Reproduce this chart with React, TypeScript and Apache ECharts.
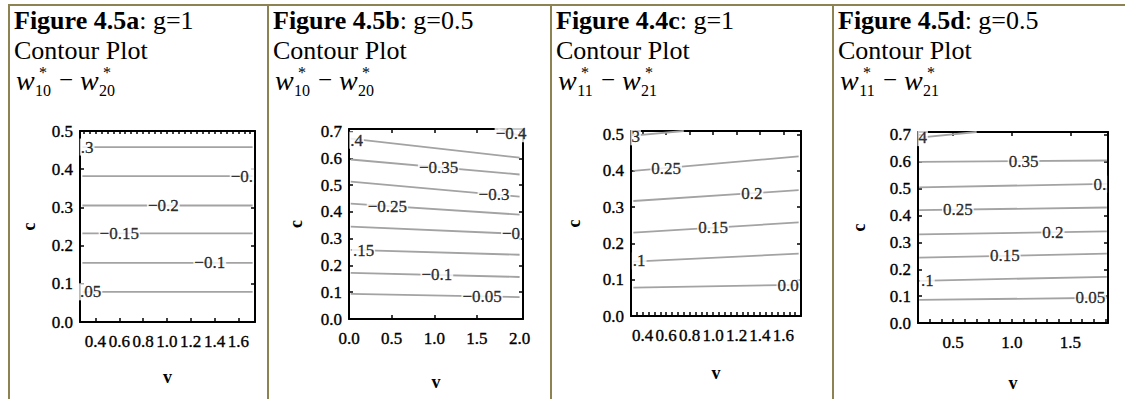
import React, { useEffect, useRef } from 'react';
import * as echarts from 'echarts';

const FONT = "'Liberation Serif', 'Times New Roman', serif";
const LINE_COLOR = '#a3a3a3';
const BORDER = '#8c8252';

// ---------- text ----------
const titleBold = ['Figure 4.5a', 'Figure 4.5b', 'Figure 4.4c', 'Figure 4.5d'];
const titleRest = [': g=1', ': g=0.5', ': g=1', ': g=0.5'];
const subtitleText = 'Contour Plot';
const subFirst = ['10', '10', '11', '11'];
const subSecond = ['20', '20', '21', '21'];

// ---------- axes ----------
const xRange = [[0.27, 1.74], [0, 2.04], [0.3, 1.75], [0.2, 1.82]];
const yRange = [[0, 0.5], [0, 0.71], [0, 0.51], [0, 0.711]];

const xLabelsA = [0.4, 0.6, 0.8, 1.0, 1.2, 1.4, 1.6];
const xLabelsB = [0.0, 0.5, 1.0, 1.5, 2.0];
const xLabelsC = [0.4, 0.6, 0.8, 1.0, 1.2, 1.4, 1.6];
const xLabelsD = [0.5, 1.0, 1.5];

const yLabels05 = [0.0, 0.1, 0.2, 0.3, 0.4, 0.5];
const yLabels07 = [0.0, 0.1, 0.2, 0.3, 0.4, 0.5, 0.6, 0.7];

const fineTicksA = [0.3, 0.35, 0.4, 0.45, 0.5, 0.55, 0.6, 0.65, 0.7, 0.75, 0.8, 0.85, 0.9, 0.95, 1.0, 1.05, 1.1, 1.15, 1.2, 1.25, 1.3, 1.35, 1.4, 1.45, 1.5, 1.55, 1.6, 1.65, 1.7];
const fineTicksC = [0.35, 0.4, 0.45, 0.5, 0.55, 0.6, 0.65, 0.7, 0.75, 0.8, 0.85, 0.9, 0.95, 1.0, 1.05, 1.1, 1.15, 1.2, 1.25, 1.3, 1.35, 1.4, 1.45, 1.5, 1.55, 1.6, 1.65, 1.7];
const fineTicksD = [0.3, 0.4, 0.5, 0.6, 0.7, 0.8, 0.9, 1.0, 1.1, 1.2, 1.3, 1.4, 1.5, 1.6, 1.7, 1.8];

const bottomTicks = [xLabelsA, [0.5, 1.0, 1.5], fineTicksC, fineTicksD];
const topTicks = [fineTicksA, [0.5, 1.0, 1.5], xLabelsC, xLabelsD];
const xLabels = [xLabelsA, xLabelsB, xLabelsC, xLabelsD];
const yLabels = [yLabels05, yLabels07, yLabels05, yLabels07];

// ---------- contour lines [v, c] ----------
const linesA = [
  [[0.29, 0.458], [1.72, 0.458]],
  [[0.29, 0.382], [1.72, 0.382]],
  [[0.29, 0.305], [1.72, 0.305]],
  [[0.29, 0.232], [1.72, 0.232]],
  [[0.29, 0.155], [1.72, 0.155]],
  [[0.29, 0.079], [1.72, 0.079]],
];
const labelsA = [
  ['.3', 0.33, 0.458],
  ['\u22120.', 1.63, 0.382],
  ['\u22120.2', 0.97, 0.305],
  ['\u22120.15', 0.6, 0.232],
  ['\u22120.1', 1.36, 0.155],
  ['.05', 0.36, 0.079],
];

const linesB = [
  [[0.02, 0.674], [2.0, 0.603]],
  [[0.02, 0.596], [2.0, 0.54]],
  [[0.02, 0.513], [2.0, 0.457]],
  [[0.02, 0.431], [2.0, 0.39]],
  [[0.02, 0.345], [2.0, 0.318]],
  [[0.02, 0.258], [2.0, 0.24]],
  [[0.02, 0.172], [2.0, 0.157]],
  [[0.02, 0.094], [2.0, 0.082]],
  [[1.75, 0.71], [2.0, 0.685]],
];
const labelsB = [
  ['.4', 0.09, 0.668],
  ['\u22120.4', 1.9, 0.692],
  ['\u22120.35', 1.05, 0.567],
  ['\u22120.3', 1.7, 0.466],
  ['\u22120.25', 0.45, 0.422],
  ['\u22120', 1.9, 0.32],
  ['.15', 0.17, 0.256],
  ['\u22120.1', 1.03, 0.165],
  ['\u22120.05', 1.56, 0.085],
];

const linesC = [
  [[0.32, 0.078], [1.73, 0.086]],
  [[0.32, 0.15], [1.73, 0.172]],
  [[0.32, 0.23], [1.73, 0.258]],
  [[0.32, 0.317], [1.73, 0.347]],
  [[0.32, 0.4], [1.73, 0.44]],
  [[0.32, 0.497], [0.75, 0.51]],
];
const labelsC = [
  ['3', 0.34, 0.494],
  ['0.25', 0.6, 0.408],
  ['0.2', 1.33, 0.338],
  ['0.15', 1.0, 0.244],
  ['.1', 0.37, 0.152],
  ['0.0', 1.64, 0.085],
];

const linesD = [
  [[0.21, 0.086], [1.81, 0.094]],
  [[0.21, 0.157], [1.81, 0.172]],
  [[0.21, 0.243], [1.81, 0.258]],
  [[0.21, 0.33], [1.81, 0.341]],
  [[0.21, 0.42], [1.81, 0.43]],
  [[0.21, 0.505], [1.81, 0.518]],
  [[0.21, 0.6], [1.81, 0.605]],
  [[0.21, 0.69], [0.7, 0.711]],
];
const labelsD = [
  ['4', 0.24, 0.69],
  ['0.35', 1.1, 0.602],
  ['0.', 1.75, 0.517],
  ['0.25', 0.54, 0.421],
  ['0.2', 1.35, 0.338],
  ['0.15', 0.94, 0.25],
  ['.1', 0.28, 0.158],
  ['0.05', 1.67, 0.094],
];

const panelLines = [linesA, linesB, linesC, linesD];
const panelLabels = [labelsA, labelsB, labelsC, labelsD];

// ---------- layout ----------
const colX = [9, 268, 551, 833];
const textX = [14, 273, 556, 838];
const grids = [
  { left: 80, top: 131, width: 175, height: 191 },
  { left: 349, top: 129, width: 174, height: 190 },
  { left: 631, top: 131, width: 170, height: 185 },
  { left: 918, top: 132, width: 190, height: 191 },
];
const yNameGap = [42, 44, 48, 50];
const xNameGap = [46, 54, 48, 51];

const tickRich = { t: { fontFamily: FONT, fontSize: 17, color: '#000', textBorderColor: '#000', textBorderWidth: 0.35 } };

function buildOption() {
  const xAxis: any[] = [];
  const yAxis: any[] = [];
  const series: any[] = [];
  const graphic: any[] = [];

  for (let i = 0; i < 4; i++) {
    xAxis.push({
      type: 'value', gridIndex: i, position: 'bottom', min: xRange[i][0], max: xRange[i][1],
      axisLine: { show: true, onZero: false, lineStyle: { color: '#000', width: 2 } },
      axisTick: { show: true, inside: true, length: 4, customValues: bottomTicks[i], lineStyle: { color: '#000', width: 1.5 } },
      axisLabel: {
        show: true, customValues: xLabels[i], margin: 11, fontFamily: FONT, fontSize: 17,
        formatter: (v: number) => `{t|${v.toFixed(1)}}`, rich: tickRich,
      },
      splitLine: { show: false },
      name: 'v', nameLocation: 'middle', nameGap: xNameGap[i],
      nameTextStyle: { fontFamily: FONT, fontSize: 18, fontWeight: 'bold', color: '#000' },
    });
    xAxis.push({
      type: 'value', gridIndex: i, position: 'top', min: xRange[i][0], max: xRange[i][1],
      axisLine: { show: true, onZero: false, lineStyle: { color: '#000', width: 2 } },
      axisTick: { show: true, inside: true, length: i === 0 ? 3 : 4, customValues: topTicks[i], lineStyle: { color: '#000', width: 1.5 } },
      axisLabel: { show: false },
      splitLine: { show: false },
    });
    yAxis.push({
      type: 'value', gridIndex: i, position: 'left', min: yRange[i][0], max: yRange[i][1],
      axisLine: { show: true, onZero: false, lineStyle: { color: '#000', width: 2 } },
      axisTick: { show: true, inside: true, length: 4, customValues: yLabels[i], lineStyle: { color: '#000', width: 1.5 } },
      axisLabel: {
        show: true, customValues: yLabels[i], margin: 7, fontFamily: FONT, fontSize: 17,
        formatter: (v: number) => `{t|${v.toFixed(1)}}`, rich: tickRich,
      },
      splitLine: { show: false },
      name: 'c', nameLocation: 'middle', nameGap: yNameGap[i], nameRotate: 90,
      nameTextStyle: { fontFamily: FONT, fontSize: 18, fontWeight: 'bold', color: '#000' },
    });
    yAxis.push({
      type: 'value', gridIndex: i, position: 'right', min: yRange[i][0], max: yRange[i][1],
      axisLine: { show: true, onZero: false, lineStyle: { color: '#000', width: 2 } },
      axisTick: { show: true, inside: true, length: 4, customValues: yLabels[i], lineStyle: { color: '#000', width: 1.5 } },
      axisLabel: { show: false },
      splitLine: { show: false },
    });

    panelLines[i].forEach((pts) => {
      series.push({
        type: 'line', xAxisIndex: 2 * i, yAxisIndex: 2 * i, data: pts, symbol: 'none', silent: true,
        lineStyle: { color: LINE_COLOR, width: 1.8 }, z: 2, clip: true,
      });
    });
    series.push({
      type: 'scatter', xAxisIndex: 2 * i, yAxisIndex: 2 * i, silent: true, z: 5,
      data: panelLabels[i].map((l) => [l[1], l[2], l[0]]),
      symbol: 'circle', symbolSize: 1, itemStyle: { color: 'rgba(0,0,0,0)' },
      label: {
        show: true, position: 'inside', formatter: (p: any) => `{t|${p.value[2]}}`,
        fontFamily: FONT, fontSize: 17, backgroundColor: '#fff', padding: [0, 1],
        rich: tickRich,
      },
    });

    const tx = textX[i];
    graphic.push({
      type: 'text', x: tx, y: 7, silent: true,
      style: {
        text: `{b|${titleBold[i]}}{r|${titleRest[i]}}`,
        rich: {
          b: { fontFamily: FONT, fontSize: 26, fontWeight: 'bold', fill: '#000' },
          r: { fontFamily: FONT, fontSize: 26, fill: '#000' },
        },
        verticalAlign: 'top',
      },
    });
    graphic.push({
      type: 'text', x: tx, y: 37, silent: true,
      style: {
        text: `{r|${subtitleText}}`,
        rich: { r: { fontFamily: FONT, fontSize: 26, fill: '#000' } },
        verticalAlign: 'top',
      },
    });

    // w*_{..} - w*_{..}
    const wy = 66;
    const wText = (x: number, t: string, size: number, italic: boolean, dy: number) => ({
      type: 'text', x: tx + x, y: wy + dy, silent: true,
      style: {
        text: `{r|${t}}`,
        rich: { r: { fontFamily: FONT, fontSize: size, fontStyle: italic ? 'italic' : 'normal', fill: '#000' } },
        verticalAlign: 'top',
      },
    });
    const stack = (cx: number, sub: string) => ({
      type: 'text', x: tx + cx, y: wy - 3, silent: true,
      style: {
        text: `{s|*}\n{n|${sub}}`,
        align: 'center',
        verticalAlign: 'top',
        rich: {
          s: { fontFamily: FONT, fontSize: 16, lineHeight: 19, fill: '#000', align: 'center' },
          n: { fontFamily: FONT, fontSize: 16, lineHeight: 16, fill: '#000', align: 'center' },
        },
      },
    });
    graphic.push(wText(2, 'w', 28, true, 0));
    graphic.push(stack(29, subFirst[i]));
    graphic.push(wText(45, '\u2212', 25, false, 1));
    graphic.push(wText(66, 'w', 28, true, 0));
    graphic.push(stack(93, subSecond[i]));
  }

  graphic.push({ type: 'line', silent: true, shape: { x1: 8, y1: 5, x2: 1125, y2: 5 }, style: { stroke: BORDER, lineWidth: 2 } });
  colX.forEach((x) => {
    graphic.push({ type: 'line', silent: true, shape: { x1: x, y1: 4, x2: x, y2: 399 }, style: { stroke: BORDER, lineWidth: 2 } });
  });

  return {
    animation: false,
    backgroundColor: '#fff',
    textStyle: { fontFamily: FONT },
    grid: grids.map((g) => ({ ...g, containLabel: false })),
    xAxis, yAxis, series, graphic,
  };
}

export default function App() {
  const ref = useRef<HTMLDivElement>(null);
  useEffect(() => {
    if (!ref.current) return;
    const chart = echarts.init(ref.current, null, { renderer: 'svg' });
    chart.setOption(buildOption() as any);
    return () => chart.dispose();
  }, []);
  return (
    <div
      ref={ref}
      style={{ position: 'fixed', left: 0, top: 0, width: 1125, height: 399, background: '#fff' }}
    />
  );
}
